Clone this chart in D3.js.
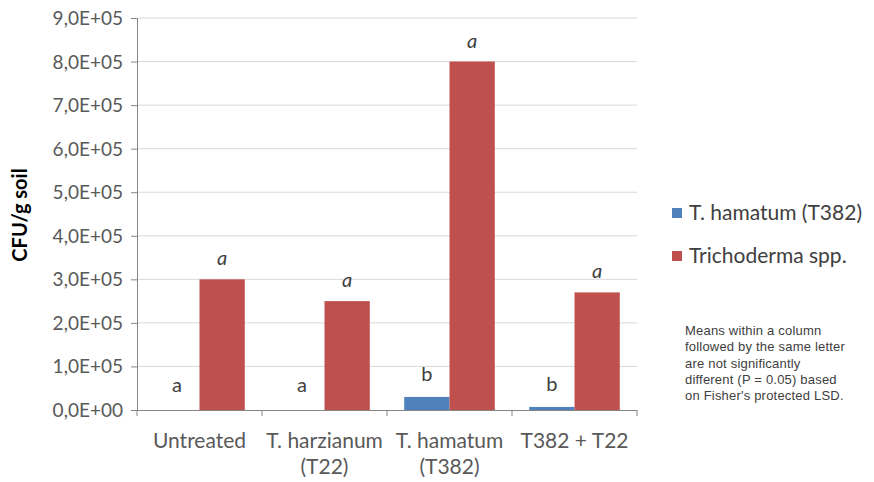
<!DOCTYPE html>
<html><head><meta charset="utf-8">
<script src="https://cdn.jsdelivr.net/npm/d3@7"></script>
<style>body{margin:0;background:#fff}svg{display:block}text{font-family:Lato,"Open Sans",sans-serif}</style>
</head><body><svg id="c" width="874" height="482"></svg>
<script>
const categories = [["Untreated"], ["T. harzianum", "(T22)"], ["T. hamatum", "(T382)"], ["T382 + T22"]];
const seriesNames = ["T. hamatum (T382)", "Trichoderma spp."];
const hamatumValues = [0, 0, 30000, 7000];
const trichodermaValues = [300000, 250000, 800000, 270000];
const hamatumLetters = ["a", "a", "b", "b"];
const trichodermaLetters = ["a", "a", "a", "a"];
const yTicks = [0, 100000, 200000, 300000, 400000, 500000, 600000, 700000, 800000, 900000];
const yTickLabels = ["0,0E+00", "1,0E+05", "2,0E+05", "3,0E+05", "4,0E+05", "5,0E+05", "6,0E+05", "7,0E+05", "8,0E+05", "9,0E+05"];
const colors = ["#4f81bd", "#c0504d"];
const note = ["Means within a column", "followed by the same letter", "are not significantly", "different (P = 0.05) based", "on Fisher's protected LSD."];

const svg = d3.select("#c");
const L = 137, R = 637, T = 18, B = 410;
const x0 = d3.scaleBand().domain(d3.range(categories.length)).range([L, R]).padding(0);
const x1 = d3.scaleBand().domain([0, 1]).range([0, x0.bandwidth()]).paddingInner(0).paddingOuter(0.38);
const y = d3.scaleLinear().domain([0, 900000]).range([B, T]);

// gridlines
svg.append("g").selectAll("line").data(yTicks.slice(1)).join("line")
  .attr("x1", L).attr("x2", R).attr("y1", d => y(d)).attr("y2", d => y(d))
  .attr("stroke", "#d9d9d9").attr("stroke-width", 1);

// y axis
const yAxis = d3.axisLeft(y).tickValues(yTicks).tickFormat((d, i) => yTickLabels[i]).tickSize(6).tickPadding(8);
const ya = svg.append("g").attr("transform", `translate(${L},0)`).call(yAxis);
ya.select(".domain").attr("stroke", "#868686");
ya.selectAll(".tick line").attr("stroke", "#868686");
ya.selectAll(".tick text").attr("fill", "#595959").style("font-size", "19px").style("font-family", "Lato").attr("dy", "0.34em");

// x axis
svg.append("line").attr("x1", L).attr("x2", R).attr("y1", B + 0.5).attr("y2", B + 0.5).attr("stroke", "#868686");
svg.append("g").selectAll("line").data(d3.range(categories.length + 1)).join("line")
  .attr("x1", i => i < categories.length ? x0(i) : R).attr("x2", i => i < categories.length ? x0(i) : R)
  .attr("y1", B).attr("y2", B + 6).attr("stroke", "#868686");

const xl = svg.append("g").selectAll("text").data(categories).join("text")
  .attr("x", (d, i) => x0(i) + x0.bandwidth() / 2).attr("y", 448)
  .attr("text-anchor", "middle").attr("fill", "#595959").style("font-size", "21px");
xl.selectAll("tspan").data(d => d).join("tspan")
  .attr("x", function() { return this.parentNode.getAttribute("x"); })
  .attr("dy", (d, i) => i === 0 ? 0 : 26).text(d => d);

// bars
const series = [hamatumValues, trichodermaValues];
const g = svg.append("g");
series.forEach((vals, s) => {
  g.selectAll(".b" + s).data(vals).join("rect")
    .attr("x", (d, i) => x0(i) + x1(s)).attr("width", x1.bandwidth())
    .attr("y", d => y(d)).attr("height", d => B - y(d)).attr("fill", colors[s]);
});

// letters
svg.append("g").selectAll("text").data(trichodermaLetters).join("text")
  .attr("x", (d, i) => x0(i) + x1(1) + x1.bandwidth() / 2)
  .attr("y", (d, i) => y(trichodermaValues[i]) - 14)
  .attr("text-anchor", "middle").attr("fill", "#404040").style("font-style", "italic").style("font-size", "20px").text(d => d);
svg.append("g").selectAll("text").data(hamatumLetters).join("text")
  .attr("x", (d, i) => x0(i) + x1(0) + x1.bandwidth() / 2)
  .attr("y", (d, i) => Math.min(y(hamatumValues[i]) - 16, 392))
  .attr("text-anchor", "middle").attr("fill", "#404040").style("font-size", "20px").text(d => d);

// y title
svg.append("text").attr("transform", "translate(27,215) rotate(-90)").attr("text-anchor", "middle")
  .style("font-weight", "bold").style("font-size", "20px").attr("fill", "#000").text("CFU/g soil");

// legend
const lg = svg.append("g");
seriesNames.forEach((n, i) => {
  const yy = 213 + i * 43;
  lg.append("rect").attr("x", 672).attr("y", yy - 5).attr("width", 10).attr("height", 10).attr("fill", colors[i]);
  lg.append("text").attr("x", 689).attr("y", yy + 7).attr("fill", "#404040").style("font-size", "21px").text(n);
});

// note
svg.append("g").selectAll("text").data(note).join("text")
  .attr("x", 685).attr("y", (d, i) => 335 + i * 16.3).attr("fill", "#404040")
  .style("font-size", "13px").style("font-family", "'Liberation Sans', Arial, sans-serif").style("letter-spacing", "0.2px").text(d => d);
</script></body></html>
